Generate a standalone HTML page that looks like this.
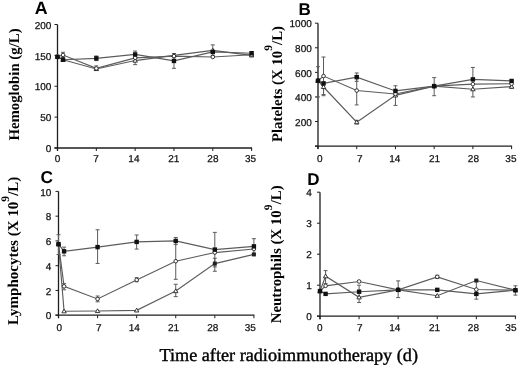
<!DOCTYPE html>
<html><head><meta charset="utf-8"><style>
html,body{margin:0;padding:0;background:#fff;}
svg{display:block;filter:blur(0.3px);}
text{text-rendering:geometricPrecision;}
.tk{font-family:'Liberation Sans', sans-serif;font-size:10px;fill:#111;stroke:#111;stroke-width:0.25px;}
.pl{font-family:'Liberation Sans', sans-serif;font-weight:bold;fill:#000;}
.yt{font-family:'Liberation Serif', serif;font-weight:bold;fill:#000;}
.xt{font-family:'Liberation Serif', serif;font-size:18.2px;fill:#000;stroke:#000;stroke-width:0.4px;}
</style></head><body>
<svg width="520" height="366" viewBox="0 0 520 366">
<rect width="520" height="366" fill="#fff"/>
<line x1="57.5" y1="24.5" x2="57.5" y2="151.0" stroke="#1e1e1e" stroke-width="1.3"/>
<line x1="54.5" y1="148.0" x2="252.1" y2="148.0" stroke="#1e1e1e" stroke-width="1.3"/>
<line x1="54.5" y1="148.00" x2="57.5" y2="148.00" stroke="#1e1e1e" stroke-width="1"/>
<text x="51.4" y="152.20" text-anchor="end" class="tk">0</text>
<line x1="54.5" y1="117.12" x2="57.5" y2="117.12" stroke="#1e1e1e" stroke-width="1"/>
<text x="51.4" y="121.33" text-anchor="end" class="tk">50</text>
<line x1="54.5" y1="86.25" x2="57.5" y2="86.25" stroke="#1e1e1e" stroke-width="1"/>
<text x="51.4" y="90.45" text-anchor="end" class="tk">100</text>
<line x1="54.5" y1="55.38" x2="57.5" y2="55.38" stroke="#1e1e1e" stroke-width="1"/>
<text x="51.4" y="59.58" text-anchor="end" class="tk">150</text>
<line x1="54.5" y1="24.50" x2="57.5" y2="24.50" stroke="#1e1e1e" stroke-width="1"/>
<text x="51.4" y="28.70" text-anchor="end" class="tk">200</text>
<line x1="57.50" y1="148.0" x2="57.50" y2="151.0" stroke="#1e1e1e" stroke-width="1"/>
<text x="57.60" y="161.5" text-anchor="middle" class="tk">0</text>
<line x1="96.32" y1="148.0" x2="96.32" y2="151.0" stroke="#1e1e1e" stroke-width="1"/>
<text x="96.10" y="161.5" text-anchor="middle" class="tk">7</text>
<line x1="135.14" y1="148.0" x2="135.14" y2="151.0" stroke="#1e1e1e" stroke-width="1"/>
<text x="133.90" y="161.5" text-anchor="middle" class="tk">14</text>
<line x1="173.96" y1="148.0" x2="173.96" y2="151.0" stroke="#1e1e1e" stroke-width="1"/>
<text x="173.80" y="161.5" text-anchor="middle" class="tk">21</text>
<line x1="212.78" y1="148.0" x2="212.78" y2="151.0" stroke="#1e1e1e" stroke-width="1"/>
<text x="212.90" y="161.5" text-anchor="middle" class="tk">28</text>
<line x1="251.60" y1="148.0" x2="251.60" y2="151.0" stroke="#1e1e1e" stroke-width="1"/>
<text x="250.50" y="161.5" text-anchor="middle" class="tk">35</text>
<line x1="318.0" y1="23.2" x2="318.0" y2="149.1" stroke="#1e1e1e" stroke-width="1.3"/>
<line x1="315.0" y1="146.1" x2="512.1" y2="146.1" stroke="#1e1e1e" stroke-width="1.3"/>
<line x1="315.0" y1="146.10" x2="318.0" y2="146.10" stroke="#1e1e1e" stroke-width="1"/>
<line x1="315.0" y1="121.52" x2="318.0" y2="121.52" stroke="#1e1e1e" stroke-width="1"/>
<text x="311.8" y="125.72" text-anchor="end" class="tk">200</text>
<line x1="315.0" y1="96.94" x2="318.0" y2="96.94" stroke="#1e1e1e" stroke-width="1"/>
<text x="311.8" y="101.14" text-anchor="end" class="tk">400</text>
<line x1="315.0" y1="72.36" x2="318.0" y2="72.36" stroke="#1e1e1e" stroke-width="1"/>
<text x="311.8" y="76.56" text-anchor="end" class="tk">600</text>
<line x1="315.0" y1="47.78" x2="318.0" y2="47.78" stroke="#1e1e1e" stroke-width="1"/>
<text x="311.8" y="51.98" text-anchor="end" class="tk">800</text>
<line x1="315.0" y1="23.20" x2="318.0" y2="23.20" stroke="#1e1e1e" stroke-width="1"/>
<text x="311.8" y="27.40" text-anchor="end" class="tk">1000</text>
<line x1="318.00" y1="146.1" x2="318.00" y2="149.1" stroke="#1e1e1e" stroke-width="1"/>
<text x="319.70" y="161.7" text-anchor="middle" class="tk">0</text>
<line x1="356.72" y1="146.1" x2="356.72" y2="149.1" stroke="#1e1e1e" stroke-width="1"/>
<text x="359.90" y="161.7" text-anchor="middle" class="tk">7</text>
<line x1="395.44" y1="146.1" x2="395.44" y2="149.1" stroke="#1e1e1e" stroke-width="1"/>
<text x="394.70" y="161.7" text-anchor="middle" class="tk">14</text>
<line x1="434.16" y1="146.1" x2="434.16" y2="149.1" stroke="#1e1e1e" stroke-width="1"/>
<text x="434.60" y="161.7" text-anchor="middle" class="tk">21</text>
<line x1="472.88" y1="146.1" x2="472.88" y2="149.1" stroke="#1e1e1e" stroke-width="1"/>
<text x="473.40" y="161.7" text-anchor="middle" class="tk">28</text>
<line x1="511.60" y1="146.1" x2="511.60" y2="149.1" stroke="#1e1e1e" stroke-width="1"/>
<text x="510.90" y="161.7" text-anchor="middle" class="tk">35</text>
<line x1="58.5" y1="191.4" x2="58.5" y2="318.2" stroke="#1e1e1e" stroke-width="1.3"/>
<line x1="55.5" y1="315.2" x2="254.4" y2="315.2" stroke="#1e1e1e" stroke-width="1.3"/>
<line x1="55.5" y1="315.20" x2="58.5" y2="315.20" stroke="#1e1e1e" stroke-width="1"/>
<text x="51.4" y="319.40" text-anchor="end" class="tk">0</text>
<line x1="55.5" y1="290.44" x2="58.5" y2="290.44" stroke="#1e1e1e" stroke-width="1"/>
<text x="51.4" y="294.64" text-anchor="end" class="tk">2</text>
<line x1="55.5" y1="265.68" x2="58.5" y2="265.68" stroke="#1e1e1e" stroke-width="1"/>
<text x="51.4" y="269.88" text-anchor="end" class="tk">4</text>
<line x1="55.5" y1="240.92" x2="58.5" y2="240.92" stroke="#1e1e1e" stroke-width="1"/>
<text x="51.4" y="245.12" text-anchor="end" class="tk">6</text>
<line x1="55.5" y1="216.16" x2="58.5" y2="216.16" stroke="#1e1e1e" stroke-width="1"/>
<text x="51.4" y="220.36" text-anchor="end" class="tk">8</text>
<line x1="55.5" y1="191.40" x2="58.5" y2="191.40" stroke="#1e1e1e" stroke-width="1"/>
<text x="51.4" y="195.60" text-anchor="end" class="tk">10</text>
<line x1="58.50" y1="315.2" x2="58.50" y2="318.2" stroke="#1e1e1e" stroke-width="1"/>
<text x="59.40" y="331.0" text-anchor="middle" class="tk">0</text>
<line x1="97.58" y1="315.2" x2="97.58" y2="318.2" stroke="#1e1e1e" stroke-width="1"/>
<text x="98.70" y="331.0" text-anchor="middle" class="tk">7</text>
<line x1="136.66" y1="315.2" x2="136.66" y2="318.2" stroke="#1e1e1e" stroke-width="1"/>
<text x="134.20" y="331.0" text-anchor="middle" class="tk">14</text>
<line x1="175.74" y1="315.2" x2="175.74" y2="318.2" stroke="#1e1e1e" stroke-width="1"/>
<text x="173.60" y="331.0" text-anchor="middle" class="tk">21</text>
<line x1="214.82" y1="315.2" x2="214.82" y2="318.2" stroke="#1e1e1e" stroke-width="1"/>
<text x="212.80" y="331.0" text-anchor="middle" class="tk">28</text>
<line x1="253.90" y1="315.2" x2="253.90" y2="318.2" stroke="#1e1e1e" stroke-width="1"/>
<text x="250.20" y="331.0" text-anchor="middle" class="tk">35</text>
<line x1="320.0" y1="192.2" x2="320.0" y2="319.2" stroke="#1e1e1e" stroke-width="1.3"/>
<line x1="317.0" y1="316.2" x2="515.9" y2="316.2" stroke="#1e1e1e" stroke-width="1.3"/>
<line x1="317.0" y1="316.20" x2="320.0" y2="316.20" stroke="#1e1e1e" stroke-width="1"/>
<text x="311.8" y="320.40" text-anchor="end" class="tk">0</text>
<line x1="317.0" y1="285.20" x2="320.0" y2="285.20" stroke="#1e1e1e" stroke-width="1"/>
<text x="311.8" y="289.40" text-anchor="end" class="tk">1</text>
<line x1="317.0" y1="254.20" x2="320.0" y2="254.20" stroke="#1e1e1e" stroke-width="1"/>
<text x="311.8" y="258.40" text-anchor="end" class="tk">2</text>
<line x1="317.0" y1="223.20" x2="320.0" y2="223.20" stroke="#1e1e1e" stroke-width="1"/>
<text x="311.8" y="227.40" text-anchor="end" class="tk">3</text>
<line x1="317.0" y1="192.20" x2="320.0" y2="192.20" stroke="#1e1e1e" stroke-width="1"/>
<text x="311.8" y="196.40" text-anchor="end" class="tk">4</text>
<line x1="320.00" y1="316.2" x2="320.00" y2="319.2" stroke="#1e1e1e" stroke-width="1"/>
<text x="319.70" y="331.0" text-anchor="middle" class="tk">0</text>
<line x1="359.08" y1="316.2" x2="359.08" y2="319.2" stroke="#1e1e1e" stroke-width="1"/>
<text x="359.80" y="331.0" text-anchor="middle" class="tk">7</text>
<line x1="398.16" y1="316.2" x2="398.16" y2="319.2" stroke="#1e1e1e" stroke-width="1"/>
<text x="394.70" y="331.0" text-anchor="middle" class="tk">14</text>
<line x1="437.24" y1="316.2" x2="437.24" y2="319.2" stroke="#1e1e1e" stroke-width="1"/>
<text x="434.50" y="331.0" text-anchor="middle" class="tk">21</text>
<line x1="476.32" y1="316.2" x2="476.32" y2="319.2" stroke="#1e1e1e" stroke-width="1"/>
<text x="473.40" y="331.0" text-anchor="middle" class="tk">28</text>
<line x1="515.40" y1="316.2" x2="515.40" y2="319.2" stroke="#1e1e1e" stroke-width="1"/>
<text x="510.90" y="331.0" text-anchor="middle" class="tk">35</text>
<text x="34.8" y="13.8" class="pl" font-size="17.8">A</text>
<text x="298.5" y="14.9" class="pl" font-size="17">B</text>
<text x="40.6" y="183.0" class="pl" font-size="17.3">C</text>
<text x="307.3" y="185.2" class="pl" font-size="17">D</text>
<text transform="translate(19.0,84.5) rotate(-90)" text-anchor="middle" class="yt" font-size="14.8">Hemoglobin (g/L)</text>
<text transform="translate(281.8,84.0) rotate(-90)" text-anchor="middle" class="yt" font-size="14.8">Platelets (X 10<tspan dy="-9.5" font-size="11.5">9</tspan><tspan dy="9.5" dx="0.2">/L)</tspan></text>
<text transform="translate(18.2,250.9) rotate(-90)" text-anchor="middle" class="yt" font-size="15">Lymphocytes (X 10<tspan dy="-9.5" font-size="11.5">9</tspan><tspan dy="9.5" dx="0.2">/L)</tspan></text>
<text transform="translate(281.4,254.3) rotate(-90)" text-anchor="middle" class="yt" font-size="14.9">Neutrophils (X 10<tspan dy="-9.5" font-size="11.5">9</tspan><tspan dy="9.5" dx="0.2">/L)</tspan></text>
<text x="159.5" y="361.3" class="xt">Time after radioimmunotherapy (d)</text>
<polyline points="57.50,56.92 63.05,59.70 96.32,58.34 135.14,54.45 173.96,60.93 212.78,51.92 251.60,53.21" fill="none" stroke="#5c5c5c" stroke-width="1.15"/>
<polyline points="57.50,56.61 63.05,55.00 96.32,68.40 135.14,57.84 173.96,56.12 212.78,56.98 251.60,54.76" fill="none" stroke="#5c5c5c" stroke-width="1.15"/>
<polyline points="57.50,56.61 63.05,59.70 96.32,68.96 135.14,60.56 173.96,55.38 212.78,50.44 251.60,55.38" fill="none" stroke="#5c5c5c" stroke-width="1.15"/>
<path d="M96.32 60.62V55.99M94.32 60.62h4M94.32 55.99h4" stroke="#5c5c5c" stroke-width="1" fill="none"/>
<path d="M135.14 57.84V51.05M133.14 57.84h4M133.14 51.05h4" stroke="#5c5c5c" stroke-width="1" fill="none"/>
<path d="M173.96 68.34V53.52M171.96 68.34h4M171.96 53.52h4" stroke="#5c5c5c" stroke-width="1" fill="none"/>
<path d="M212.78 55.38V44.88M210.78 55.38h4M210.78 44.88h4" stroke="#5c5c5c" stroke-width="1" fill="none"/>
<path d="M251.60 55.07V51.67M249.60 55.07h4M249.60 51.67h4" stroke="#5c5c5c" stroke-width="1" fill="none"/>
<path d="M63.05 57.23V52.29M61.05 57.23h4M61.05 52.29h4" stroke="#5c5c5c" stroke-width="1" fill="none"/>
<path d="M96.32 70.50V65.87M94.32 70.50h4M94.32 65.87h4" stroke="#5c5c5c" stroke-width="1" fill="none"/>
<path d="M135.14 64.64V57.23M133.14 64.64h4M133.14 57.23h4" stroke="#5c5c5c" stroke-width="1" fill="none"/>
<path d="M57.50 54.41L59.70 58.21H55.30Z" fill="#fff" stroke="#222" stroke-width="0.9"/>
<path d="M63.05 57.50L65.25 61.30H60.85Z" fill="#fff" stroke="#222" stroke-width="0.9"/>
<path d="M96.32 66.76L98.52 70.56H94.12Z" fill="#fff" stroke="#222" stroke-width="0.9"/>
<path d="M135.14 58.36L137.34 62.16H132.94Z" fill="#fff" stroke="#222" stroke-width="0.9"/>
<path d="M173.96 53.17L176.16 56.98H171.76Z" fill="#fff" stroke="#222" stroke-width="0.9"/>
<path d="M212.78 48.23L214.98 52.04H210.58Z" fill="#fff" stroke="#222" stroke-width="0.9"/>
<path d="M251.60 53.17L253.80 56.98H249.40Z" fill="#fff" stroke="#222" stroke-width="0.9"/>
<circle cx="57.50" cy="56.61" r="1.8" fill="#fff" stroke="#222" stroke-width="0.9"/>
<circle cx="63.05" cy="55.00" r="1.8" fill="#fff" stroke="#222" stroke-width="0.9"/>
<circle cx="96.32" cy="68.40" r="1.8" fill="#fff" stroke="#222" stroke-width="0.9"/>
<circle cx="135.14" cy="57.84" r="1.8" fill="#fff" stroke="#222" stroke-width="0.9"/>
<circle cx="173.96" cy="56.12" r="1.8" fill="#fff" stroke="#222" stroke-width="0.9"/>
<circle cx="212.78" cy="56.98" r="1.8" fill="#fff" stroke="#222" stroke-width="0.9"/>
<circle cx="251.60" cy="54.76" r="1.8" fill="#fff" stroke="#222" stroke-width="0.9"/>
<rect x="55.30" y="54.72" width="4.4" height="4.4" fill="#111"/>
<rect x="60.85" y="57.50" width="4.4" height="4.4" fill="#111"/>
<rect x="94.12" y="56.14" width="4.4" height="4.4" fill="#111"/>
<rect x="132.94" y="52.25" width="4.4" height="4.4" fill="#111"/>
<rect x="171.76" y="58.73" width="4.4" height="4.4" fill="#111"/>
<rect x="210.58" y="49.72" width="4.4" height="4.4" fill="#111"/>
<rect x="249.40" y="51.01" width="4.4" height="4.4" fill="#111"/>
<polyline points="318.00,80.72 323.53,83.42 356.72,77.15 395.44,90.92 434.16,86.12 472.88,79.37 511.60,80.96" fill="none" stroke="#5c5c5c" stroke-width="1.15"/>
<polyline points="318.00,80.72 323.53,76.05 356.72,90.55 395.44,93.99 434.16,86.12 472.88,84.16 511.60,83.79" fill="none" stroke="#5c5c5c" stroke-width="1.15"/>
<polyline points="318.00,80.72 323.53,86.99 356.72,122.13 395.44,95.34 434.16,86.12 472.88,89.20 511.60,86.62" fill="none" stroke="#5c5c5c" stroke-width="1.15"/>
<path d="M318.00 96.94V66.71M316.00 96.94h4M316.00 66.71h4" stroke="#5c5c5c" stroke-width="1" fill="none"/>
<path d="M356.72 81.33V72.97M354.72 81.33h4M354.72 72.97h4" stroke="#5c5c5c" stroke-width="1" fill="none"/>
<path d="M395.44 105.42V85.76M393.44 105.42h4M393.44 85.76h4" stroke="#5c5c5c" stroke-width="1" fill="none"/>
<path d="M434.16 95.71V77.64M432.16 95.71h4M432.16 77.64h4" stroke="#5c5c5c" stroke-width="1" fill="none"/>
<path d="M472.88 96.94V67.44M470.88 96.94h4M470.88 67.44h4" stroke="#5c5c5c" stroke-width="1" fill="none"/>
<path d="M323.53 94.48V57.00M321.53 94.48h4M321.53 57.00h4" stroke="#5c5c5c" stroke-width="1" fill="none"/>
<path d="M356.72 104.93V76.05M354.72 104.93h4M354.72 76.05h4" stroke="#5c5c5c" stroke-width="1" fill="none"/>
<path d="M511.60 88.34V80.96M509.60 88.34h4M509.60 80.96h4" stroke="#5c5c5c" stroke-width="1" fill="none"/>
<path d="M323.53 95.71V82.19M321.53 95.71h4M321.53 82.19h4" stroke="#5c5c5c" stroke-width="1" fill="none"/>
<path d="M356.72 123.98V120.29M354.72 123.98h4M354.72 120.29h4" stroke="#5c5c5c" stroke-width="1" fill="none"/>
<path d="M318.00 78.52L320.20 82.32H315.80Z" fill="#fff" stroke="#222" stroke-width="0.9"/>
<path d="M323.53 84.79L325.73 88.59H321.33Z" fill="#fff" stroke="#222" stroke-width="0.9"/>
<path d="M356.72 119.93L358.92 123.73H354.52Z" fill="#fff" stroke="#222" stroke-width="0.9"/>
<path d="M395.44 93.14L397.64 96.94H393.24Z" fill="#fff" stroke="#222" stroke-width="0.9"/>
<path d="M434.16 83.92L436.36 87.72H431.96Z" fill="#fff" stroke="#222" stroke-width="0.9"/>
<path d="M472.88 87.00L475.08 90.80H470.68Z" fill="#fff" stroke="#222" stroke-width="0.9"/>
<path d="M511.60 84.42L513.80 88.22H509.40Z" fill="#fff" stroke="#222" stroke-width="0.9"/>
<circle cx="318.00" cy="80.72" r="1.8" fill="#fff" stroke="#222" stroke-width="0.9"/>
<circle cx="323.53" cy="76.05" r="1.8" fill="#fff" stroke="#222" stroke-width="0.9"/>
<circle cx="356.72" cy="90.55" r="1.8" fill="#fff" stroke="#222" stroke-width="0.9"/>
<circle cx="395.44" cy="93.99" r="1.8" fill="#fff" stroke="#222" stroke-width="0.9"/>
<circle cx="434.16" cy="86.12" r="1.8" fill="#fff" stroke="#222" stroke-width="0.9"/>
<circle cx="472.88" cy="84.16" r="1.8" fill="#fff" stroke="#222" stroke-width="0.9"/>
<circle cx="511.60" cy="83.79" r="1.8" fill="#fff" stroke="#222" stroke-width="0.9"/>
<rect x="315.80" y="78.52" width="4.4" height="4.4" fill="#111"/>
<rect x="321.33" y="81.22" width="4.4" height="4.4" fill="#111"/>
<rect x="354.52" y="74.95" width="4.4" height="4.4" fill="#111"/>
<rect x="393.24" y="88.72" width="4.4" height="4.4" fill="#111"/>
<rect x="431.96" y="83.92" width="4.4" height="4.4" fill="#111"/>
<rect x="470.68" y="77.17" width="4.4" height="4.4" fill="#111"/>
<rect x="509.40" y="78.76" width="4.4" height="4.4" fill="#111"/>
<polyline points="58.50,244.14 64.08,251.32 97.58,247.11 136.66,241.91 175.74,240.92 214.82,249.59 253.90,246.37" fill="none" stroke="#5c5c5c" stroke-width="1.15"/>
<polyline points="58.50,244.14 64.08,286.35 97.58,298.98 136.66,279.92 175.74,261.22 214.82,252.56 253.90,248.97" fill="none" stroke="#5c5c5c" stroke-width="1.15"/>
<polyline points="58.50,244.14 64.08,311.24 97.58,310.99 136.66,310.37 175.74,291.06 214.82,263.58 253.90,254.41" fill="none" stroke="#5c5c5c" stroke-width="1.15"/>
<path d="M58.50 254.54V234.73M56.50 254.54h4M56.50 234.73h4" stroke="#5c5c5c" stroke-width="1" fill="none"/>
<path d="M64.08 255.78V247.11M62.08 255.78h4M62.08 247.11h4" stroke="#5c5c5c" stroke-width="1" fill="none"/>
<path d="M97.58 263.45V229.78M95.58 263.45h4M95.58 229.78h4" stroke="#5c5c5c" stroke-width="1" fill="none"/>
<path d="M136.66 249.09V234.98M134.66 249.09h4M134.66 234.98h4" stroke="#5c5c5c" stroke-width="1" fill="none"/>
<path d="M175.74 244.63V237.45M173.74 244.63h4M173.74 237.45h4" stroke="#5c5c5c" stroke-width="1" fill="none"/>
<path d="M214.82 266.92V232.38M212.82 266.92h4M212.82 232.38h4" stroke="#5c5c5c" stroke-width="1" fill="none"/>
<path d="M253.90 253.92V238.69M251.90 253.92h4M251.90 238.69h4" stroke="#5c5c5c" stroke-width="1" fill="none"/>
<path d="M64.08 289.82V283.63M62.08 289.82h4M62.08 283.63h4" stroke="#5c5c5c" stroke-width="1" fill="none"/>
<path d="M97.58 301.83V296.01M95.58 301.83h4M95.58 296.01h4" stroke="#5c5c5c" stroke-width="1" fill="none"/>
<path d="M136.66 281.77V277.69M134.66 281.77h4M134.66 277.69h4" stroke="#5c5c5c" stroke-width="1" fill="none"/>
<path d="M175.74 279.30V240.92M173.74 279.30h4M173.74 240.92h4" stroke="#5c5c5c" stroke-width="1" fill="none"/>
<path d="M175.74 296.63V284.25M173.74 296.63h4M173.74 284.25h4" stroke="#5c5c5c" stroke-width="1" fill="none"/>
<path d="M214.82 271.25V258.25M212.82 271.25h4M212.82 258.25h4" stroke="#5c5c5c" stroke-width="1" fill="none"/>
<path d="M58.50 241.94L60.70 245.74H56.30Z" fill="#fff" stroke="#222" stroke-width="0.9"/>
<path d="M64.08 309.04L66.28 312.84H61.88Z" fill="#fff" stroke="#222" stroke-width="0.9"/>
<path d="M97.58 308.79L99.78 312.59H95.38Z" fill="#fff" stroke="#222" stroke-width="0.9"/>
<path d="M136.66 308.17L138.86 311.97H134.46Z" fill="#fff" stroke="#222" stroke-width="0.9"/>
<path d="M175.74 288.86L177.94 292.66H173.54Z" fill="#fff" stroke="#222" stroke-width="0.9"/>
<rect x="212.82" y="261.58" width="4" height="4" fill="#222"/>
<rect x="251.90" y="252.41" width="4" height="4" fill="#222"/>
<circle cx="58.50" cy="244.14" r="1.8" fill="#fff" stroke="#222" stroke-width="0.9"/>
<circle cx="64.08" cy="286.35" r="1.8" fill="#fff" stroke="#222" stroke-width="0.9"/>
<circle cx="97.58" cy="298.98" r="1.8" fill="#fff" stroke="#222" stroke-width="0.9"/>
<circle cx="136.66" cy="279.92" r="1.8" fill="#fff" stroke="#222" stroke-width="0.9"/>
<circle cx="175.74" cy="261.22" r="1.8" fill="#fff" stroke="#222" stroke-width="0.9"/>
<circle cx="214.82" cy="252.56" r="1.8" fill="#fff" stroke="#222" stroke-width="0.9"/>
<circle cx="253.90" cy="248.97" r="1.8" fill="#fff" stroke="#222" stroke-width="0.9"/>
<rect x="56.30" y="241.94" width="4.4" height="4.4" fill="#111"/>
<rect x="61.88" y="249.12" width="4.4" height="4.4" fill="#111"/>
<rect x="95.38" y="244.91" width="4.4" height="4.4" fill="#111"/>
<rect x="134.46" y="239.71" width="4.4" height="4.4" fill="#111"/>
<rect x="173.54" y="238.72" width="4.4" height="4.4" fill="#111"/>
<rect x="212.62" y="247.39" width="4.4" height="4.4" fill="#111"/>
<rect x="251.70" y="244.17" width="4.4" height="4.4" fill="#111"/>
<polyline points="320.00,291.09 325.58,293.88 359.08,291.71 398.16,289.85 437.24,289.85 476.32,293.88 515.40,290.16" fill="none" stroke="#5c5c5c" stroke-width="1.15"/>
<polyline points="320.00,291.09 325.58,285.82 359.08,281.48 398.16,289.85 437.24,276.83 476.32,289.54 515.40,290.16" fill="none" stroke="#5c5c5c" stroke-width="1.15"/>
<polyline points="320.00,291.09 325.58,276.21 359.08,297.29 398.16,289.85 437.24,295.74 476.32,280.55 515.40,290.16" fill="none" stroke="#5c5c5c" stroke-width="1.15"/>
<path d="M359.08 302.56V285.20M357.08 302.56h4M357.08 285.20h4" stroke="#5c5c5c" stroke-width="1" fill="none"/>
<path d="M398.16 297.60V280.86M396.16 297.60h4M396.16 280.86h4" stroke="#5c5c5c" stroke-width="1" fill="none"/>
<path d="M476.32 299.15V280.55M474.32 299.15h4M474.32 280.55h4" stroke="#5c5c5c" stroke-width="1" fill="none"/>
<path d="M515.40 295.12V285.82M513.40 295.12h4M513.40 285.82h4" stroke="#5c5c5c" stroke-width="1" fill="none"/>
<path d="M437.24 278.38V275.28M435.24 278.38h4M435.24 275.28h4" stroke="#5c5c5c" stroke-width="1" fill="none"/>
<path d="M325.58 283.65V270.63M323.58 283.65h4M323.58 270.63h4" stroke="#5c5c5c" stroke-width="1" fill="none"/>
<path d="M320.00 288.89L322.20 292.69H317.80Z" fill="#fff" stroke="#222" stroke-width="0.9"/>
<path d="M325.58 274.01L327.78 277.81H323.38Z" fill="#fff" stroke="#222" stroke-width="0.9"/>
<path d="M359.08 295.09L361.28 298.89H356.88Z" fill="#fff" stroke="#222" stroke-width="0.9"/>
<path d="M398.16 287.65L400.36 291.45H395.96Z" fill="#fff" stroke="#222" stroke-width="0.9"/>
<path d="M437.24 293.54L439.44 297.34H435.04Z" fill="#fff" stroke="#222" stroke-width="0.9"/>
<rect x="474.32" y="278.55" width="4" height="4" fill="#222"/>
<path d="M515.40 287.96L517.60 291.76H513.20Z" fill="#fff" stroke="#222" stroke-width="0.9"/>
<circle cx="320.00" cy="291.09" r="1.8" fill="#fff" stroke="#222" stroke-width="0.9"/>
<circle cx="325.58" cy="285.82" r="1.8" fill="#fff" stroke="#222" stroke-width="0.9"/>
<circle cx="359.08" cy="281.48" r="1.8" fill="#fff" stroke="#222" stroke-width="0.9"/>
<circle cx="398.16" cy="289.85" r="1.8" fill="#fff" stroke="#222" stroke-width="0.9"/>
<circle cx="437.24" cy="276.83" r="1.8" fill="#fff" stroke="#222" stroke-width="0.9"/>
<circle cx="476.32" cy="289.54" r="1.8" fill="#fff" stroke="#222" stroke-width="0.9"/>
<circle cx="515.40" cy="290.16" r="1.8" fill="#fff" stroke="#222" stroke-width="0.9"/>
<rect x="317.80" y="288.89" width="4.4" height="4.4" fill="#111"/>
<rect x="323.38" y="291.68" width="4.4" height="4.4" fill="#111"/>
<rect x="356.88" y="289.51" width="4.4" height="4.4" fill="#111"/>
<rect x="395.96" y="287.65" width="4.4" height="4.4" fill="#111"/>
<rect x="435.04" y="287.65" width="4.4" height="4.4" fill="#111"/>
<rect x="474.12" y="291.68" width="4.4" height="4.4" fill="#111"/>
<rect x="513.20" y="287.96" width="4.4" height="4.4" fill="#111"/>
</svg>
</body></html>
